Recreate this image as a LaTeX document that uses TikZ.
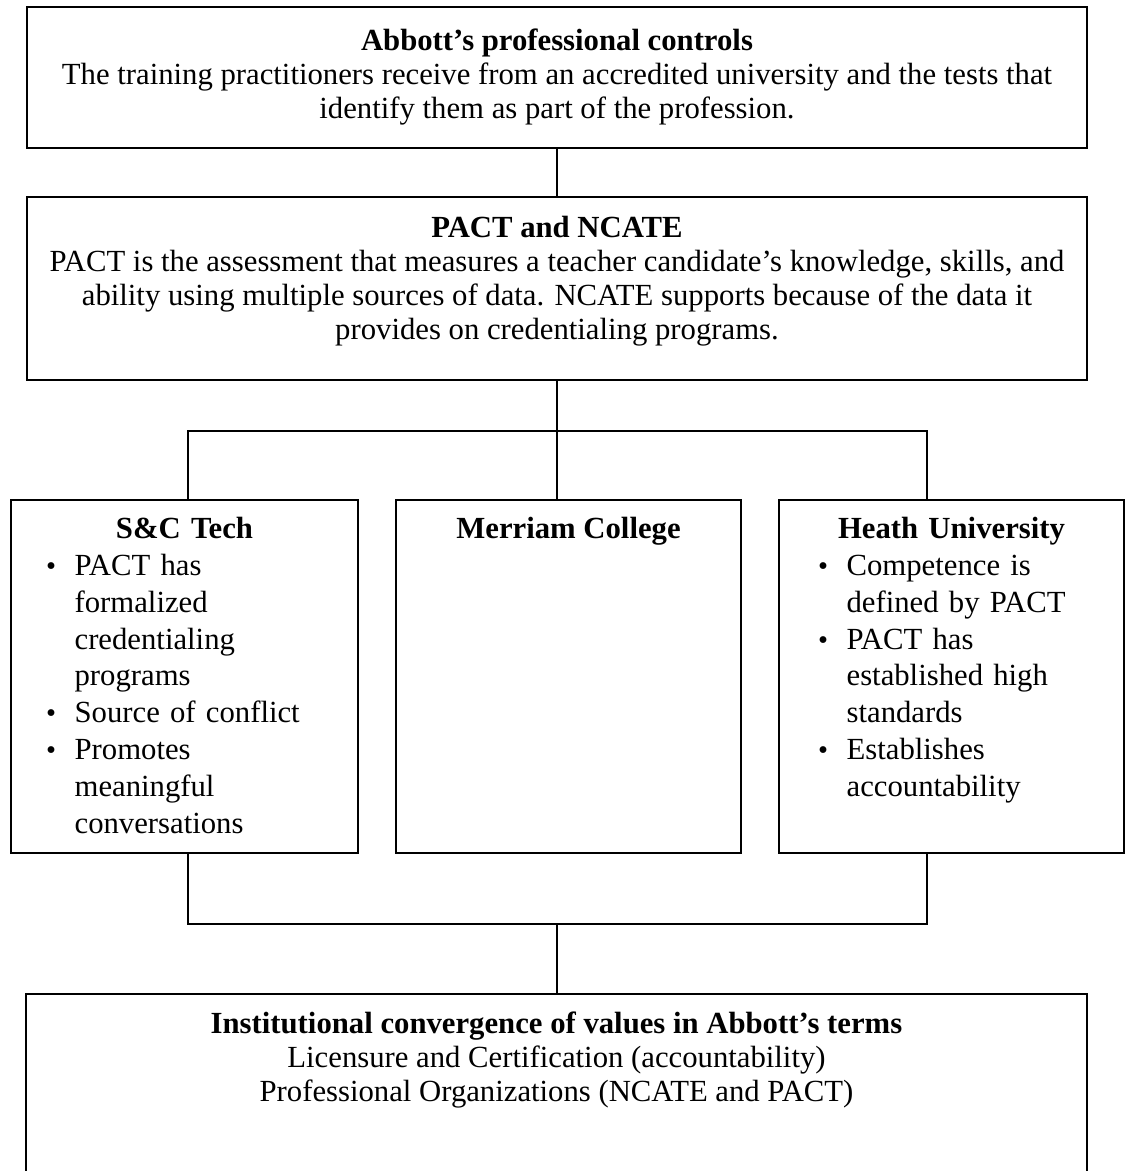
\documentclass[tikz,border=0pt]{standalone}
\usepackage{fontspec}
\setmainfont{Liberation Serif}
\usepackage{enumitem}
\usetikzlibrary{positioning}
\setlist[itemize]{label={\large\textbullet}, leftmargin=12pt, labelindent=0pt, labelwidth=6pt, labelsep=6pt, align=left, itemsep=0pt, topsep=0pt, parsep=0pt, partopsep=0pt}
\tikzstyle{plainBox}=[draw, rectangle, line width=1pt, inner sep=0pt, outer sep=0pt]
\tikzstyle{joinLine}=[line width=1pt]
\tikzstyle{midTxt}=[anchor=north, align=center, inner sep=0pt, font=\fontsize{12.9}{14.3}\selectfont]
\tikzstyle{listTxt}=[anchor=north, inner sep=0pt, font=\fontsize{12.9}{15.5}\selectfont]

\begin{document}
\begin{tikzpicture}[x=0.42pt, y=-0.42pt]
      \useasboundingbox (0,0) rectangle (1126,1171);
      \clip (0,0) rectangle (1126,1171);
      % boxes
      \node(top) [plainBox, minimum width=445.2pt, minimum height=59.22pt] at (557,77.5){};
      \node(pact) [plainBox, minimum width=445.2pt, minimum height=76.86pt] at (557,288.5){};
      \node(sct) [plainBox, minimum width=145.74pt, minimum height=148.26pt] at (184.5,676.5){};
      \node(mer) [plainBox, minimum width=144.9pt, minimum height=148.26pt] at (568.5,676.5){};
      \node(hea) [plainBox, minimum width=144.9pt, minimum height=148.26pt] at (951.5,676.5){};
      \node(inst) [plainBox, minimum width=445.62pt, minimum height=86.52pt] at (556.5,1097){};
      % texts
      \node(topTxt) [midTxt] at (557,28.5){\textbf{Abbott's professional controls}\\The training practitioners receive from an accredited university and the tests that\\identify them as part of the profession.};
      \node(pactTxt) [midTxt] at (557,215.5){\textbf{PACT and NCATE}\\PACT is the assessment that measures a teacher candidate's knowledge, skills, and\\ability using multiple sources of data. NCATE supports because of the data it\\provides on credentialing programs.};
      \node(sctTxt) [listTxt, text width=116.3pt] at (184.5,516.5){{\centering\textbf{S\&C Tech}\par}\raggedright
        \begin{itemize}
          \item PACT has\\formalized\\credentialing\\programs
          \item Source of conflict
          \item Promotes\\meaningful\\conversations
        \end{itemize}};
      \node(merTxt) [midTxt] at (568.5,516.5){\textbf{Merriam College}};
      \node(heaTxt) [listTxt, text width=112.1pt] at (951.5,516.5){{\centering\textbf{Heath University}\par}\raggedright
        \begin{itemize}
          \item Competence is\\defined by PACT
          \item PACT has\\established high\\standards
          \item Establishes\\accountability
        \end{itemize}};
      \node(instTxt) [midTxt] at (556.5,1011.5){\textbf{Institutional convergence of values in Abbott's terms}\\Licensure and Certification (accountability)\\Professional Organizations (NCATE and PACT)};
      % connectors
      \coordinate (upL) at (188,431);
      \coordinate (upM) at (557,431);
      \coordinate (upR) at (927,431);
      \coordinate (dnL) at (188,924);
      \coordinate (dnM) at (557,924);
      \coordinate (dnR) at (927,924);
      \draw[joinLine] (top) -- (pact);
      \draw[joinLine] (pact.south) -- (upM);
      \draw[joinLine] (sct.north -| upL) -- (upL) -- (upR) -- (hea.north -| upR);
      \draw[joinLine] (upM) -- (mer.north -| upM);
      \draw[joinLine] (sct.south -| dnL) -- (dnL) -- (dnR) -- (hea.south -| dnR);
      \draw[joinLine] (dnM) -- (inst.north -| dnM);
\end{tikzpicture}
\end{document}
